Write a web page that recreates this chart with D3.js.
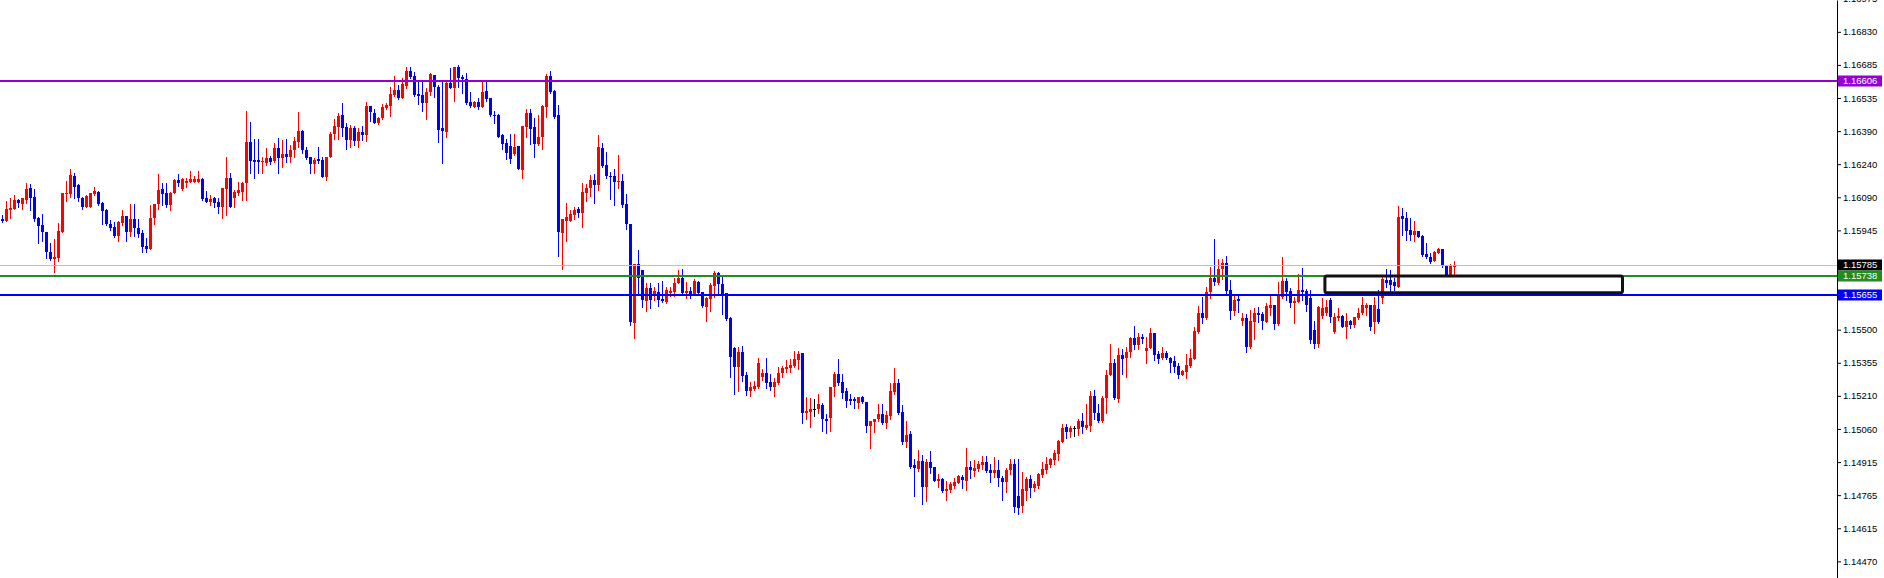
<!DOCTYPE html>
<html>
<head>
<meta charset="utf-8">
<script src="https://cdn.jsdelivr.net/npm/d3@7"></script>
<style>
  html, body { margin: 0; padding: 0; background: #fff; overflow: hidden; }
  svg { display: block; }
</style>
</head>
<body>
<div id="chart"></div>
<script>
// candle prices, bar by bar, left to right
var open = [
  1.15992,1.15983,1.16032,1.16036,1.16076,1.16058,1.16076,1.16129,1.16090,1.15996,
  1.15965,1.15934,1.15845,1.15814,1.15818,1.15934,1.16103,1.16103,1.16183,1.16143,
  1.16085,1.16045,1.16045,1.16103,1.16112,1.16063,1.16032,1.15969,1.15956,1.15916,
  1.15974,1.16005,1.15934,1.15992,1.15951,1.15930,1.15871,1.15858,1.15996,1.16058,
  1.16125,1.16108,1.16054,1.16108,1.16165,1.16125,1.16152,1.16156,1.16156,1.16156,
  1.16170,1.16085,1.16067,1.16085,1.16067,1.16045,1.16125,1.16174,1.16085,1.16108,
  1.16112,1.16152,1.16334,1.16254,1.16254,1.16245,1.16241,1.16263,1.16250,1.16307,
  1.16263,1.16280,1.16267,1.16298,1.16334,1.16383,1.16298,1.16267,1.16236,1.16258,
  1.16254,1.16179,1.16267,1.16369,1.16400,1.16454,1.16400,1.16343,1.16396,1.16338,
  1.16378,1.16365,1.16494,1.16463,1.16418,1.16441,1.16485,1.16494,1.16543,1.16565,
  1.16529,1.16583,1.16650,1.16627,1.16547,1.16543,1.16508,1.16556,1.16632,1.16578,
  1.16396,1.16378,1.16596,1.16574,1.16667,1.16623,1.16614,1.16512,1.16490,1.16512,
  1.16490,1.16561,1.16529,1.16454,1.16454,1.16365,1.16330,1.16316,1.16280,1.16316,
  1.16210,1.16400,1.16463,1.16400,1.16325,1.16356,1.16490,1.16627,1.16561,1.16454,
  1.15930,1.15983,1.15983,1.16010,1.16036,1.16019,1.16108,1.16129,1.16165,1.16143,
  1.16307,1.16232,1.16183,1.16183,1.16156,1.16161,1.16058,1.15969,1.15530,1.15792,
  1.15765,1.15628,1.15685,1.15658,1.15667,1.15636,1.15623,1.15663,1.15667,1.15708,
  1.15730,1.15663,1.15672,1.15658,1.15712,1.15667,1.15601,1.15636,1.15694,1.15752,
  1.15703,1.15663,1.15552,1.15419,1.15334,1.15401,1.15299,1.15228,1.15236,1.15245,
  1.15290,1.15308,1.15267,1.15245,1.15263,1.15308,1.15325,1.15330,1.15338,1.15365,
  1.15396,1.15130,1.15134,1.15145,1.15147,1.15165,1.15103,1.15107,1.15245,1.15303,
  1.15267,1.15228,1.15192,1.15192,1.15174,1.15201,1.15178,1.15071,1.15089,1.15103,
  1.15125,1.15085,1.15116,1.15223,1.15263,1.15134,1.15001,1.15036,1.14898,1.14880,
  1.14916,1.14800,1.14912,1.14889,1.14828,1.14836,1.14783,1.14787,1.14805,1.14818,
  1.14845,1.14828,1.14889,1.14872,1.14880,1.14898,1.14912,1.14876,1.14863,1.14876,
  1.14841,1.14823,1.14876,1.14903,1.14760,1.14716,1.14783,1.14836,1.14796,1.14805,
  1.14854,1.14876,1.14898,1.14921,1.14947,1.15001,1.15067,1.15045,1.15061,1.15058,
  1.15094,1.15063,1.15071,1.15205,1.15130,1.15094,1.15196,1.15299,1.15352,1.15192,
  1.15387,1.15374,1.15401,1.15463,1.15432,1.15467,1.15405,1.15419,1.15485,1.15392,
  1.15374,1.15396,1.15374,1.15361,1.15338,1.15299,1.15312,1.15338,1.15369,1.15489,
  1.15574,1.15552,1.15667,1.15730,1.15708,1.15769,1.15796,1.15676,1.15583,1.15636,
  1.15539,1.15552,1.15423,1.15534,1.15574,1.15569,1.15534,1.15596,1.15610,1.15525,
  1.15645,1.15717,1.15672,1.15619,1.15623,1.15676,1.15672,1.15641,1.15498,1.15436,
  1.15561,1.15574,1.15632,1.15489,1.15552,1.15561,1.15512,1.15539,1.15521,1.15552,
  1.15574,1.15596,1.15610,1.15534,1.15592,1.15641,1.15721,1.15721,1.15712,1.15690,
  1.16005,1.15996,1.15943,1.15921,1.15939,1.15916,1.15836,1.15823,1.15806,1.15841,
  1.15858,1.15783,1.15743,1.15778
];
var high = [
  1.16010,1.16072,1.16085,1.16099,1.16081,1.16085,1.16152,1.16147,1.16125,1.16001,
  1.16014,1.15934,1.15885,1.15903,1.15974,1.16108,1.16161,1.16214,1.16197,1.16147,
  1.16090,1.16099,1.16108,1.16134,1.16117,1.16067,1.16036,1.15987,1.15978,1.15983,
  1.16032,1.16005,1.16058,1.16058,1.15992,1.15943,1.15907,1.16054,1.16058,1.16192,
  1.16152,1.16152,1.16112,1.16170,1.16192,1.16174,1.16174,1.16205,1.16183,1.16205,
  1.16174,1.16117,1.16099,1.16090,1.16085,1.16129,1.16267,1.16197,1.16121,1.16156,
  1.16156,1.16472,1.16423,1.16347,1.16347,1.16267,1.16307,1.16272,1.16330,1.16352,
  1.16343,1.16347,1.16321,1.16356,1.16467,1.16387,1.16312,1.16267,1.16263,1.16312,
  1.16267,1.16267,1.16378,1.16436,1.16463,1.16508,1.16418,1.16409,1.16405,1.16396,
  1.16405,1.16512,1.16494,1.16481,1.16445,1.16503,1.16508,1.16578,1.16627,1.16587,
  1.16618,1.16667,1.16667,1.16645,1.16601,1.16601,1.16574,1.16641,1.16632,1.16587,
  1.16609,1.16605,1.16663,1.16667,1.16676,1.16632,1.16641,1.16556,1.16516,1.16529,
  1.16601,1.16605,1.16529,1.16472,1.16458,1.16369,1.16347,1.16369,1.16369,1.16316,
  1.16405,1.16481,1.16481,1.16441,1.16454,1.16499,1.16636,1.16650,1.16565,1.16499,
  1.15992,1.16063,1.16032,1.16045,1.16045,1.16152,1.16147,1.16188,1.16192,1.16365,
  1.16330,1.16289,1.16201,1.16214,1.16276,1.16192,1.16103,1.15969,1.15792,1.15854,
  1.15765,1.15708,1.15708,1.15690,1.15708,1.15717,1.15690,1.15690,1.15730,1.15765,
  1.15769,1.15712,1.15690,1.15725,1.15717,1.15667,1.15645,1.15708,1.15761,1.15756,
  1.15734,1.15663,1.15556,1.15423,1.15423,1.15427,1.15312,1.15267,1.15272,1.15374,
  1.15325,1.15374,1.15303,1.15285,1.15334,1.15338,1.15365,1.15369,1.15405,1.15405,
  1.15396,1.15201,1.15196,1.15192,1.15214,1.15174,1.15125,1.15245,1.15312,1.15369,
  1.15303,1.15241,1.15214,1.15201,1.15201,1.15205,1.15178,1.15094,1.15103,1.15169,
  1.15169,1.15139,1.15263,1.15330,1.15281,1.15165,1.15094,1.15050,1.14925,1.14965,
  1.14943,1.14925,1.14961,1.14889,1.14858,1.14841,1.14828,1.14823,1.14841,1.14854,
  1.14854,1.14974,1.14916,1.14921,1.14916,1.14938,1.14938,1.14903,1.14934,1.14921,
  1.14849,1.14885,1.14925,1.14925,1.14925,1.14867,1.14845,1.14854,1.14828,1.14863,
  1.14912,1.14934,1.14929,1.14965,1.15010,1.15080,1.15080,1.15071,1.15071,1.15103,
  1.15130,1.15169,1.15228,1.15232,1.15169,1.15205,1.15321,1.15436,1.15369,1.15419,
  1.15414,1.15423,1.15467,1.15516,1.15485,1.15480,1.15467,1.15507,1.15485,1.15405,
  1.15423,1.15405,1.15379,1.15383,1.15352,1.15321,1.15392,1.15414,1.15512,1.15605,
  1.15645,1.15690,1.15778,1.15903,1.15814,1.15814,1.15827,1.15721,1.15649,1.15649,
  1.15574,1.15569,1.15587,1.15596,1.15601,1.15578,1.15619,1.15649,1.15610,1.15712,
  1.15823,1.15730,1.15685,1.15645,1.15747,1.15774,1.15681,1.15676,1.15539,1.15605,
  1.15641,1.15632,1.15641,1.15574,1.15596,1.15565,1.15574,1.15543,1.15556,1.15596,
  1.15645,1.15619,1.15610,1.15645,1.15676,1.15734,1.15769,1.15765,1.15730,1.16050,
  1.16040,1.16023,1.15996,1.15983,1.15939,1.15921,1.15885,1.15841,1.15850,1.15863,
  1.15858,1.15787,1.15792,1.15806
];
var low = [
  1.15978,1.15983,1.15996,1.16036,1.16045,1.16036,1.16063,1.16032,1.15983,1.15885,
  1.15894,1.15818,1.15810,1.15756,1.15806,1.15934,1.16072,1.16090,1.16085,1.16072,
  1.16036,1.16045,1.16045,1.16099,1.16054,1.15969,1.15965,1.15943,1.15912,1.15894,
  1.15965,1.15894,1.15916,1.15916,1.15912,1.15845,1.15845,1.15858,1.15969,1.16036,
  1.16054,1.16045,1.16032,1.16108,1.16138,1.16121,1.16134,1.16156,1.16156,1.16156,
  1.16076,1.16067,1.16054,1.16045,1.16019,1.15996,1.16010,1.16045,1.16045,1.16099,
  1.16076,1.16076,1.16197,1.16174,1.16197,1.16197,1.16232,1.16236,1.16245,1.16197,
  1.16223,1.16245,1.16245,1.16267,1.16312,1.16285,1.16258,1.16197,1.16197,1.16241,
  1.16179,1.16165,1.16267,1.16347,1.16347,1.16360,1.16303,1.16312,1.16321,1.16312,
  1.16343,1.16338,1.16427,1.16418,1.16414,1.16436,1.16481,1.16449,1.16538,1.16525,
  1.16529,1.16574,1.16618,1.16538,1.16503,1.16472,1.16436,1.16543,1.16534,1.16334,
  1.16241,1.16356,1.16574,1.16516,1.16578,1.16552,1.16503,1.16490,1.16490,1.16481,
  1.16490,1.16516,1.16449,1.16418,1.16356,1.16303,1.16258,1.16241,1.16276,1.16214,
  1.16174,1.16356,1.16325,1.16267,1.16321,1.16303,1.16445,1.16552,1.16441,1.15827,
  1.15769,1.15894,1.15983,1.15992,1.16001,1.15956,1.16072,1.16094,1.16063,1.16121,
  1.16223,1.16174,1.16081,1.16054,1.16129,1.16045,1.15947,1.15521,1.15463,1.15663,
  1.15601,1.15583,1.15596,1.15632,1.15605,1.15623,1.15619,1.15649,1.15649,1.15708,
  1.15663,1.15641,1.15641,1.15658,1.15663,1.15601,1.15539,1.15583,1.15645,1.15658,
  1.15569,1.15543,1.15290,1.15214,1.15228,1.15272,1.15210,1.15205,1.15232,1.15241,
  1.15276,1.15241,1.15232,1.15205,1.15258,1.15290,1.15312,1.15312,1.15334,1.15325,
  1.15085,1.15103,1.15067,1.15116,1.15130,1.15050,1.15041,1.15050,1.15205,1.15254,
  1.15196,1.15156,1.15169,1.15151,1.15151,1.15174,1.15045,1.14974,1.15045,1.15094,
  1.15080,1.15063,1.15103,1.15214,1.15125,1.14992,1.14978,1.14885,1.14760,1.14872,
  1.14725,1.14739,1.14863,1.14828,1.14800,1.14778,1.14743,1.14778,1.14796,1.14818,
  1.14796,1.14787,1.14841,1.14849,1.14872,1.14880,1.14867,1.14823,1.14845,1.14805,
  1.14743,1.14778,1.14858,1.14689,1.14680,1.14689,1.14743,1.14756,1.14783,1.14796,
  1.14845,1.14863,1.14889,1.14903,1.14921,1.15001,1.15018,1.15023,1.15027,1.15032,
  1.15041,1.15058,1.15050,1.15103,1.15089,1.15089,1.15130,1.15299,1.15192,1.15178,
  1.15303,1.15290,1.15379,1.15414,1.15414,1.15441,1.15352,1.15419,1.15365,1.15352,
  1.15369,1.15369,1.15312,1.15312,1.15285,1.15299,1.15285,1.15334,1.15369,1.15485,
  1.15530,1.15547,1.15641,1.15698,1.15703,1.15725,1.15663,1.15547,1.15565,1.15578,
  1.15521,1.15401,1.15419,1.15458,1.15534,1.15503,1.15534,1.15565,1.15503,1.15521,
  1.15641,1.15632,1.15601,1.15530,1.15623,1.15632,1.15583,1.15441,1.15419,1.15423,
  1.15552,1.15565,1.15534,1.15485,1.15543,1.15512,1.15463,1.15507,1.15512,1.15547,
  1.15569,1.15565,1.15498,1.15485,1.15530,1.15619,1.15690,1.15667,1.15676,1.15690,
  1.15921,1.15898,1.15898,1.15894,1.15912,1.15827,1.15818,1.15796,1.15806,1.15841,
  1.15778,1.15738,1.15738,1.15738
];
var close = [
  1.15983,1.16036,1.16040,1.16076,1.16063,1.16085,1.16125,1.16085,1.15992,1.15960,
  1.15934,1.15845,1.15814,1.15823,1.15939,1.16108,1.16108,1.16188,1.16134,1.16085,
  1.16045,1.16094,1.16108,1.16117,1.16058,1.16028,1.15969,1.15951,1.15916,1.15978,
  1.16005,1.15934,1.15992,1.15951,1.15925,1.15867,1.15858,1.15996,1.16058,1.16121,
  1.16103,1.16054,1.16108,1.16165,1.16152,1.16170,1.16161,1.16170,1.16170,1.16170,
  1.16081,1.16067,1.16081,1.16063,1.16045,1.16129,1.16174,1.16045,1.16112,1.16121,
  1.16152,1.16334,1.16250,1.16245,1.16245,1.16250,1.16263,1.16245,1.16307,1.16263,
  1.16280,1.16267,1.16298,1.16338,1.16383,1.16298,1.16263,1.16236,1.16254,1.16250,
  1.16179,1.16267,1.16369,1.16405,1.16449,1.16396,1.16343,1.16396,1.16338,1.16378,
  1.16365,1.16494,1.16467,1.16418,1.16441,1.16490,1.16499,1.16547,1.16565,1.16529,
  1.16592,1.16650,1.16623,1.16543,1.16538,1.16508,1.16556,1.16636,1.16578,1.16387,
  1.16383,1.16596,1.16574,1.16667,1.16618,1.16614,1.16508,1.16494,1.16512,1.16490,
  1.16556,1.16525,1.16454,1.16449,1.16356,1.16325,1.16285,1.16258,1.16312,1.16214,
  1.16405,1.16463,1.16391,1.16325,1.16356,1.16494,1.16627,1.16556,1.16445,1.15934,
  1.15992,1.16001,1.16014,1.16032,1.16019,1.16112,1.16129,1.16165,1.16143,1.16312,
  1.16227,1.16183,1.16179,1.16156,1.16161,1.16054,1.15969,1.15534,1.15792,1.15730,
  1.15632,1.15685,1.15632,1.15672,1.15632,1.15628,1.15676,1.15672,1.15708,1.15730,
  1.15663,1.15672,1.15658,1.15717,1.15663,1.15605,1.15641,1.15698,1.15752,1.15703,
  1.15658,1.15547,1.15379,1.15334,1.15401,1.15294,1.15228,1.15245,1.15250,1.15352,
  1.15308,1.15263,1.15245,1.15267,1.15308,1.15330,1.15334,1.15343,1.15369,1.15392,
  1.15130,1.15139,1.15147,1.15145,1.15169,1.15103,1.15094,1.15245,1.15303,1.15263,
  1.15219,1.15183,1.15183,1.15183,1.15201,1.15178,1.15071,1.15094,1.15103,1.15125,
  1.15085,1.15121,1.15228,1.15263,1.15130,1.15001,1.15032,1.14889,1.14885,1.14916,
  1.14800,1.14912,1.14885,1.14828,1.14836,1.14783,1.14792,1.14814,1.14823,1.14849,
  1.14832,1.14889,1.14876,1.14885,1.14903,1.14912,1.14872,1.14863,1.14876,1.14841,
  1.14823,1.14876,1.14903,1.14712,1.14707,1.14792,1.14836,1.14796,1.14814,1.14858,
  1.14880,1.14903,1.14925,1.14952,1.15005,1.15063,1.15045,1.15063,1.15061,1.15094,
  1.15067,1.15076,1.15205,1.15130,1.15094,1.15196,1.15299,1.15352,1.15196,1.15387,
  1.15369,1.15401,1.15463,1.15432,1.15467,1.15458,1.15419,1.15485,1.15387,1.15369,
  1.15396,1.15374,1.15352,1.15334,1.15299,1.15316,1.15343,1.15374,1.15494,1.15574,
  1.15552,1.15667,1.15730,1.15712,1.15769,1.15796,1.15672,1.15583,1.15632,1.15628,
  1.15552,1.15423,1.15539,1.15574,1.15565,1.15539,1.15605,1.15610,1.15525,1.15649,
  1.15717,1.15667,1.15619,1.15628,1.15676,1.15667,1.15610,1.15454,1.15436,1.15601,
  1.15596,1.15601,1.15556,1.15556,1.15561,1.15512,1.15539,1.15521,1.15556,1.15574,
  1.15610,1.15610,1.15512,1.15610,1.15534,1.15725,1.15708,1.15698,1.15694,1.16001,
  1.15992,1.15939,1.15921,1.15939,1.15912,1.15832,1.15823,1.15801,1.15845,1.15858,
  1.15783,1.15743,1.15783,1.15785
];

// price scale labels on the right, bottom to top (as printed, rounded)
var tickLabels = ["1.14470","1.14615","1.14765","1.14915","1.15060","1.15210","1.15355","1.15500",
                  "1.15650","1.15800","1.15945","1.16090","1.16240","1.16390","1.16535","1.16685",
                  "1.16830","1.16975"];
// the grid step behind those rounded labels
var tickStart = 1.14470, tickStep = 0.001471;

// horizontal levels: resistance, bid, green level, support
var levelPrices = [1.16606, 1.15785, 1.15738, 1.15655];
var levelNames = ["resist", "bid", "mid", "support"];

// the drawn zone box: from bar 330.6 into the future, between two prices
var zoneBars = [330.6, 405];
var zonePrices = [1.15664, 1.15738];

// visible price window of the screenshot
var priceRange = [1.14396, 1.16965];

var width = 1884, height = 578;
var axisX = 1837;

var levelStyle = {
	resist:  { line: '#9400d3', box: '#9400d3', w: 2 },
	bid:     { line: '#c0c0c0', box: '#000000', w: 1 },
	mid:     { line: '#228b22', box: '#228b22', w: 2 },
	support: { line: '#0000ff', box: '#0000ff', w: 2 }
};

var svg = d3.select('#chart').append('svg')
	.attr('width', width)
	.attr('height', height);

var n = open.length;
// 4px per bar, bar 0 centred on pixel 2
var x = d3.scaleLinear().domain([0, n - 1]).range([2.5, 2.5 + 4 * (n - 1)]);
var y = d3.scaleLinear().domain(priceRange).range([height, 0]);

var bars = d3.range(n).map(function(i){
	return { i: i, o: open[i], h: high[i], l: low[i], c: close[i] };
});

function colorOf(d) {
	if (d.c > d.o) return '#ff0000';
	if (d.c < d.o) return '#0000ff';
	return '#000000';
}

var plot = svg.append('g');

// wicks
plot.selectAll('.wick')
	.data(bars).enter()
	.append('rect')
	.attr('class', 'wick')
	.attr('x', function(d){ return x(d.i) - 0.5; })
	.attr('y', function(d){ return Math.round(y(d.h)); })
	.attr('width', 1)
	.attr('height', function(d){ return Math.max(1, Math.round(y(d.l)) - Math.round(y(d.h)) + 1); })
	.attr('fill', colorOf)
	.attr('shape-rendering', 'crispEdges');

// bodies
plot.selectAll('.body')
	.data(bars).enter()
	.append('rect')
	.attr('class', 'body')
	.attr('x', function(d){ return x(d.i) - 1.5; })
	.attr('y', function(d){ return Math.round(y(Math.max(d.o, d.c))); })
	.attr('width', 3)
	.attr('height', function(d){
		var h = Math.round(y(Math.min(d.o, d.c))) - Math.round(y(Math.max(d.o, d.c)));
		return Math.max(1, h);
	})
	.attr('fill', colorOf)
	.attr('shape-rendering', 'crispEdges');

// level lines
var levels = levelPrices.map(function(p, k){ return { p: p, name: levelNames[k] }; });

svg.selectAll('.level')
	.data(levels).enter()
	.append('line')
	.attr('class', 'level')
	.attr('x1', 0)
	.attr('x2', axisX)
	.attr('y1', function(d){ var s = levelStyle[d.name]; return Math.round(y(d.p)) + (s.w === 1 ? 0.5 : 0); })
	.attr('y2', function(d){ var s = levelStyle[d.name]; return Math.round(y(d.p)) + (s.w === 1 ? 0.5 : 0); })
	.attr('stroke', function(d){ return levelStyle[d.name].line; })
	.attr('stroke-width', function(d){ return levelStyle[d.name].w; });

// zone rectangle
svg.append('rect')
	.attr('x', x(zoneBars[0]))
	.attr('y', y(zonePrices[1]))
	.attr('width', x(zoneBars[1]) - x(zoneBars[0]))
	.attr('height', y(zonePrices[0]) - y(zonePrices[1]))
	.attr('rx', 2)
	.attr('fill', 'none')
	.attr('stroke', '#111')
	.attr('stroke-width', 3);

// price axis on the right
var tickVals = tickLabels.map(function(t, k){ return tickStart + k * tickStep; });

var axis = d3.axisRight(y)
	.tickValues(tickVals)
	.tickFormat(function(d, i){ return tickLabels[i]; })
	.tickSize(4)
	.tickSizeOuter(0)
	.tickPadding(2);

var ax = svg.append('g')
	.attr('transform', 'translate(' + axisX + ',0)')
	.call(axis);

ax.select('.domain').attr('stroke', '#000');
ax.selectAll('.tick line').attr('stroke', '#000');
ax.selectAll('text')
	.attr('fill', '#000')
	.style('font-family', '"Liberation Sans", Arial, sans-serif')
	.style('font-size', '9.5px');

// coloured price boxes on the axis
var tag = svg.selectAll('.tag')
	.data(levels).enter()
	.append('g')
	.attr('class', 'tag')
	.attr('transform', function(d){ return 'translate(' + (axisX + 1) + ',' + Math.round(y(d.p)) + ')'; });

tag.append('rect')
	.attr('x', 0)
	.attr('y', -5.5)
	.attr('width', 44)
	.attr('height', 11)
	.attr('fill', function(d){ return levelStyle[d.name].box; });

tag.append('text')
	.attr('x', 5)
	.attr('dy', '0.34em')
	.attr('fill', '#fff')
	.style('font-family', '"Liberation Sans", Arial, sans-serif')
	.style('font-size', '9.5px')
	.text(function(d){ return d.p.toFixed(5); });
</script>
</body>
</html>
